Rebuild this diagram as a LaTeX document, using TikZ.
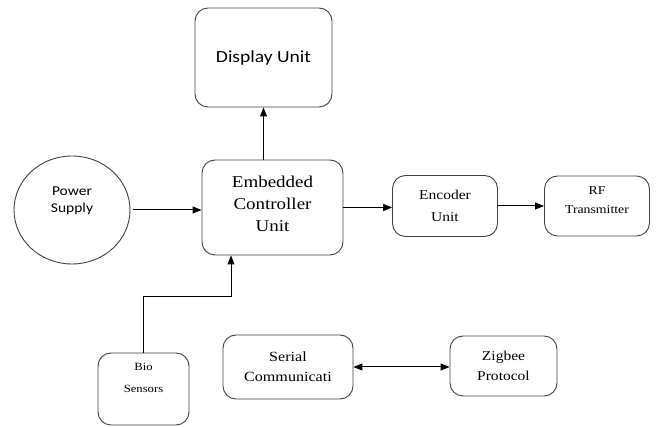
\documentclass[tikz,border=0pt]{standalone}
\usepackage{fontspec}
\setmainfont[FakeStretch=1.15]{Liberation Serif}
\newfontfamily\calibri[FakeStretch=1.15]{Carlito}
\usetikzlibrary{shapes.geometric,arrows.meta}

\tikzset{
    block/.style={draw=black!75, line width=0.9pt, rounded corners=13pt, align=center, inner sep=2pt},
    link/.style={line width=1pt, -{Triangle[length=9pt,width=7pt]}},
}

\begin{document}
\begin{tikzpicture}[x=1pt,y=-1pt]
            \useasboundingbox (0,0) rectangle (657,427);
            \node[block, minimum width=137, minimum height=99, font=\calibri\fontsize{17}{20}\selectfont] (display) at (263.5,57.5) {Display Unit};
            \node[block, minimum width=141, minimum height=95, font=\fontsize{16.5}{22}\selectfont] (ecu) at (272.5,207.5) {Embedded\\Controller\\Unit\\[-14pt]\mbox{}};
            \node[draw=black!75, line width=0.9pt, ellipse, minimum width=116, minimum height=108, align=center, font=\calibri\fontsize{13.5}{17.5}\selectfont] (power) at (72,210) {Power\\Supply\\[3pt]\mbox{}};
            \node[block, minimum width=105, minimum height=61, font=\fontsize{13.5}{22}\selectfont] (encoder) at (445,206) {Encoder\\Unit};
            \node[block, minimum width=105, minimum height=60, font=\fontsize{12}{19}\selectfont] (rf) at (597,206) {RF\\Transmitter\\[-8pt]\mbox{}};
            \node[block, minimum width=91, minimum height=72, font=\fontsize{11}{22}\selectfont] (bio) at (143.5,389) {Bio\\Sensors\\\mbox{}};
            \node[block, minimum width=130, minimum height=64, font=\fontsize{14}{20}\selectfont] (serial) at (288,367) {Serial\\Communicati};
            \node[block, minimum width=107, minimum height=60, font=\fontsize{13.5}{20}\selectfont] (zigbee) at (503.5,366) {Zigbee\\Protocol};

            \draw[link] ([xshift=3pt]power.east) -- (power.east -| ecu.west);
            \draw[link] (display.south |- ecu.north) -- (display.south);
            \draw[link] (ecu.east) -- (ecu.east -| encoder.west);
            \draw[link] (encoder) -- (rf);
            \draw[link] (bio.north) -- ++(0,-56) -| ([xshift=-41.5pt]ecu.south);
            \draw[line width=1pt, {Triangle[length=9pt,width=7pt]}-{Triangle[length=9pt,width=7pt]}] (serial.east) -- (serial.east -| zigbee.west);
        \end{tikzpicture}
\end{document}
